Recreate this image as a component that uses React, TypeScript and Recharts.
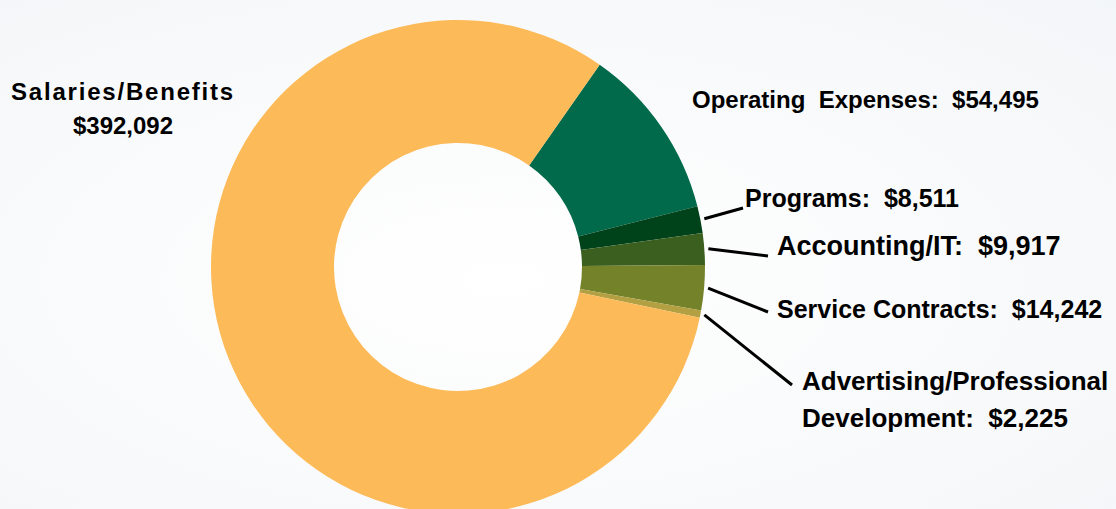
import { PieChart, Pie, Cell } from "recharts"

// slice order runs clockwise from the top boundary
const categories = [
  "Operating  Expenses",
  "Programs",
  "Accounting/IT",
  "Service Contracts",
  "Advertising/Professional Development",
  "Salaries/Benefits",
]
const amounts = [54495, 8511, 9917, 14242, 2225, 392092]
const colors = ["#006A4B", "#00421A", "#3B5F1F", "#748229", "#B2A042", "#FDBA58"]

const data = categories.map((name, i) => ({ name, value: amounts[i] }))

const RADIAN = Math.PI / 180
const money = (v: number) => "$" + v.toLocaleString("en-US")

// where each label sits (text anchor point) and where its leader line ends
const labelLayout = [
  { x: 692, y: 108, size: 24, anchor: "start", spacing: 0, leader: null },
  { x: 745, y: 207, size: 25, anchor: "start", spacing: 0, leader: [743, 208] },
  { x: 777, y: 255, size: 27, anchor: "start", spacing: 0, leader: [768, 256] },
  { x: 777, y: 318, size: 25, anchor: "start", spacing: 0, leader: [768, 312] },
  { x: 802, y: 390, size: 26, anchor: "start", spacing: 0, leader: [792, 385] },
  { x: 123, y: 100, size: 24, anchor: "middle", spacing: 1.8, leader: null },
]

function labelText(i: number): string[] {
  const name = categories[i]
  if (i === 5) return [name, money(amounts[i])]
  if (i === 4) return ["Advertising/Professional", "Development:  " + money(amounts[i])]
  return [name + ":  " + money(amounts[i])]
}

function renderLabel(props: any) {
  const { cx, cy, midAngle, outerRadius, index } = props
  const lay = labelLayout[index]
  const lines = labelText(index)
  const r = outerRadius + 4
  const sx = cx + r * Math.cos(-midAngle * RADIAN)
  const sy = cy + r * Math.sin(-midAngle * RADIAN)
  return (
    <g key={`lbl-${index}`}>
      {lay.leader && (
        <line x1={sx} y1={sy} x2={lay.leader[0]} y2={lay.leader[1]} stroke="#000" strokeWidth={3} />
      )}
      <text
        x={lay.x}
        y={lay.y}
        textAnchor={lay.anchor}
        fontFamily="'Liberation Sans', Arial, sans-serif"
        fontWeight="bold"
        fontSize={lay.size}
        fill="#000"
        style={{ whiteSpace: "pre" }}
      >
        {lines.map((ln, k) => (
          <tspan
            key={k}
            x={lay.x}
            dy={k === 0 ? 0 : index === 5 ? 34 : 37}
            letterSpacing={k === 0 ? lay.spacing : 0}
          >
            {ln}
          </tspan>
        ))}
      </text>
    </g>
  )
}

export default function App() {
  return (
    <div
      style={{
        position: "absolute",
        left: 0,
        top: 0,
        width: 1116,
        height: 509,
        background: "radial-gradient(ellipse at 45% 55%, #ffffff 0%, #f9fafb 55%, #f3f6f8 100%)",
        overflow: "hidden",
      }}
    >
      <PieChart width={1116} height={509}>
        <Pie
          data={data}
          dataKey="value"
          nameKey="name"
          cx={453}
          cy={262}
          innerRadius={124}
          outerRadius={247}
          startAngle={55}
          endAngle={-305}
          stroke="none"
          labelLine={false}
          label={renderLabel}
          isAnimationActive={false}
        >
          {data.map((entry, index) => (
            <Cell key={`cell-${index}`} fill={colors[index]} />
          ))}
        </Pie>
      </PieChart>
    </div>
  )
}
